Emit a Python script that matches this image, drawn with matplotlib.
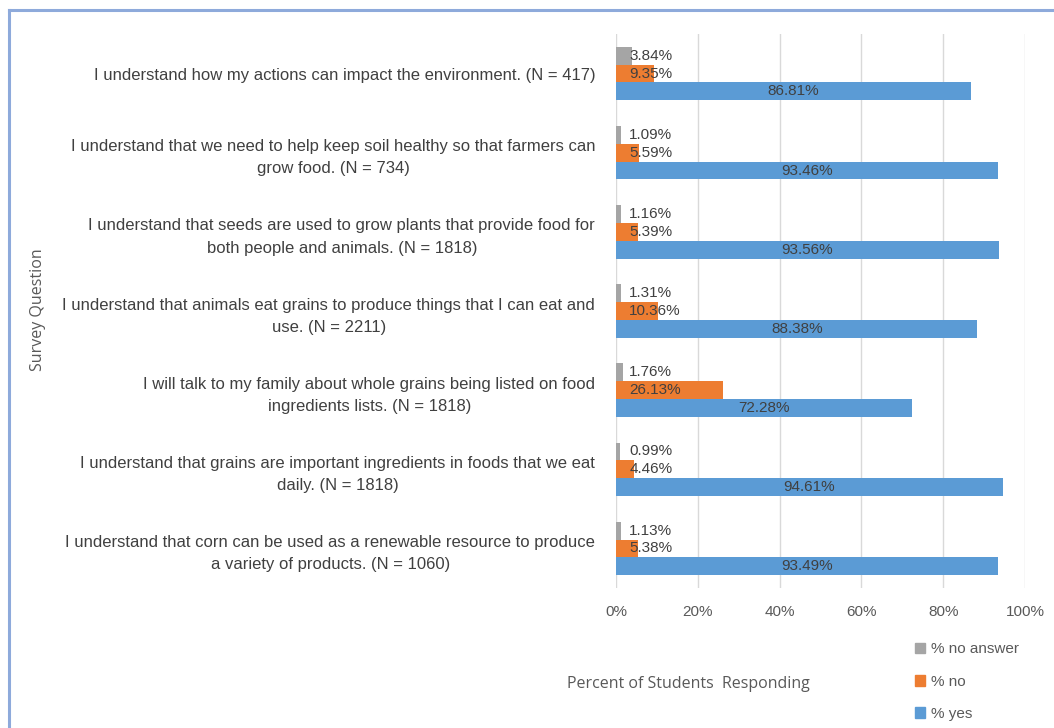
import numpy as np
import matplotlib
matplotlib.use("Agg")
import matplotlib.pyplot as plt
from matplotlib.lines import Line2D
from matplotlib.patches import Patch

questions = [
    "I understand how my actions can impact the environment. (N = 417)",
    "I understand that we need to help keep soil healthy so that farmers can\ngrow food. (N = 734)",
    "I understand that seeds are used to grow plants that provide food for\nboth people and animals. (N = 1818)",
    "I understand that animals eat grains to produce things that I can eat and\nuse. (N = 2211)",
    "I will talk to my family about whole grains being listed on food\ningredients lists. (N = 1818)",
    "I understand that grains are important ingredients in foods that we eat\ndaily. (N = 1818)",
    "I understand that corn can be used as a renewable resource to produce\na variety of products. (N = 1060)",
]
pct_no_answer = [3.84, 1.09, 1.16, 1.31, 1.76, 0.99, 1.13]
pct_no = [9.35, 5.59, 5.39, 10.36, 26.13, 4.46, 5.38]
pct_yes = [86.81, 93.46, 93.56, 88.38, 72.28, 94.61, 93.49]
x_ticks = [0, 20, 40, 60, 80, 100]

plt.rcParams["font.family"] = ["Liberation Sans", "DejaVu Sans"]
text_col = "#404040"
tick_col = "#595959"

fig = plt.figure(figsize=(10.54, 7.28), dpi=100)
ax = fig.add_axes([0.5845, 0.1923, 0.3880, 0.7610])

y = np.arange(len(questions))
h = 0.225
ax.barh(y - h, pct_no_answer, height=h, color="#a5a5a5", label="% no answer", zorder=2)
ax.barh(y, pct_no, height=h, color="#ed7d31", label="% no", zorder=2)
ax.barh(y + h, pct_yes, height=h, color="#5b9bd5", label="% yes", zorder=2)

for i in range(len(questions)):
    ax.text(3.2, y[i] - h, f"{pct_no_answer[i]:.2f}%", va="center", ha="left",
            fontsize=11, color=text_col, zorder=3)
    ax.text(3.2, y[i], f"{pct_no[i]:.2f}%", va="center", ha="left",
            fontsize=11, color=text_col, zorder=3)
    ax.text(pct_yes[i] / 2, y[i] + h, f"{pct_yes[i]:.2f}%", va="center", ha="center",
            fontsize=11, color=text_col, zorder=3)

ax.set_xlim(0, 100)
ax.set_ylim(len(questions) - 0.5, -0.5)
ax.set_xticks(x_ticks)
ax.set_xticklabels([f"{t}%" for t in x_ticks])
ax.set_yticks(y)
ax.set_yticklabels(questions, multialignment="center")
for t in ax.get_yticklabels():
    t.set_linespacing(1.6)
ax.tick_params(axis="x", length=0, pad=12, labelsize=11, labelcolor=tick_col)
ax.tick_params(axis="y", length=0, pad=15, labelsize=12, labelcolor=text_col)
ax.grid(axis="x", color="#d9d9d9", linewidth=1, zorder=0)
for s in ax.spines.values():
    s.set_visible(False)

fig.text(0.653, 0.060, "Percent of Students  Responding", ha="center", va="center",
         fontsize=11.5, color=tick_col, family="Open Sans")
fig.text(0.036, 0.574, "Survey Question", rotation=90, ha="center", va="center",
         fontsize=11.5, color=tick_col, family="Open Sans")

handles = [Patch(color="#a5a5a5"), Patch(color="#ed7d31"), Patch(color="#5b9bd5")]
fig.legend(handles, ["% no answer", "% no", "% yes"], loc="upper left",
           bbox_to_anchor=(0.862, 0.126), frameon=False, fontsize=11,
           labelcolor=tick_col, handlelength=0.7, handleheight=0.7,
           handletextpad=0.4, labelspacing=1.2, borderaxespad=0)

# blue frame around the chart area (only top and left edges are visible)
fig.add_artist(Line2D([0.0082, 0.0082], [0, 0.9856], color="#8eaadb", lw=2.2,
                      transform=fig.transFigure))
fig.add_artist(Line2D([0.0082, 1.0], [0.9856, 0.9856], color="#8eaadb", lw=2.2,
                      transform=fig.transFigure))

fig.savefig("out.png", dpi=100)
